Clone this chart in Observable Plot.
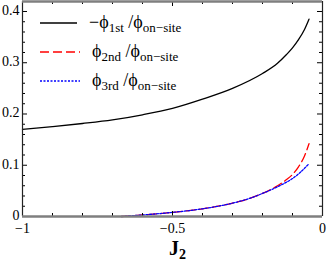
<!DOCTYPE html>
<html>
<head>
<meta charset="utf-8">
<script src="https://cdn.jsdelivr.net/npm/d3@7"></script>
<script src="https://cdn.jsdelivr.net/npm/@observablehq/plot@0.6"></script>
<style>
  html, body { margin: 0; padding: 0; background: #fff; }
  #chart { width: 327px; height: 261px; }
</style>
</head>
<body>
<div id="chart"></div>
<script>
// Data
const J2_first = [-1, -0.9, -0.8, -0.7, -0.6, -0.5, -0.4, -0.3, -0.2, -0.15, -0.12, -0.1, -0.08, -0.06, -0.045];
const phi1 = [0.170, 0.1755, 0.1815, 0.1885, 0.1985, 0.211, 0.229, 0.250, 0.279, 0.299, 0.316, 0.329, 0.345, 0.365, 0.385];

const J2_far = [-0.67, -0.6, -0.5, -0.4, -0.3, -0.25, -0.2, -0.15, -0.12, -0.1, -0.08, -0.06, -0.045];
const phi2 = [0.0, 0.003, 0.008, 0.015, 0.026, 0.034, 0.045, 0.060, 0.072, 0.082, 0.097, 0.118, 0.142];
const phi3 = [0.0, 0.003, 0.008, 0.015, 0.026, 0.034, 0.045, 0.058, 0.067, 0.074, 0.083, 0.094, 0.103];

const xMajor = [-1, -0.5, 0];
const xMinor = [-0.9, -0.8, -0.7, -0.6, -0.4, -0.3, -0.2, -0.1];
const yMajor = [0, 0.1, 0.2, 0.3, 0.4];
const yMinor = [0.02, 0.04, 0.06, 0.08, 0.12, 0.14, 0.16, 0.18, 0.22, 0.24, 0.26, 0.28, 0.32, 0.34, 0.36, 0.38];

const W = 327, H = 261;
const mL = 22, mR = 5, mT = 1, mB = 45;
const xDom = [-1, 0], yDom = [0, 0.4195];
const pw = W - mL - mR, ph = H - mT - mB;
const dyu = (yDom[1] - yDom[0]) / ph;   // data units per pixel (y)
const dxu = (xDom[1] - xDom[0]) / pw;   // data units per pixel (x)
const majLen = 5, minLen = 3;

const s1 = J2_first.map((x, i) => ({x, y: phi1[i]}));
const s2 = J2_far.map((x, i) => ({x, y: phi2[i]}));
const s3 = J2_far.map((x, i) => ({x, y: phi3[i]}));

const frameGray = "#7f7f7f";

const plot = Plot.plot({
  width: W, height: H,
  marginLeft: mL, marginRight: mR, marginTop: mT, marginBottom: mB,
  style: {fontFamily: "'Liberation Serif', 'Times New Roman', serif", fontSize: "14px", color: "#000", background: "#fff", overflow: "visible"},
  x: {domain: xDom, axis: null},
  y: {domain: yDom, axis: null},
  marks: [
    // curves
    Plot.line(s1, {x: "x", y: "y", stroke: "#000", strokeWidth: 1.3, curve: "monotone-x"}),
    Plot.line(s2, {x: "x", y: "y", stroke: "#ff0000", strokeWidth: 1.3, strokeDasharray: "9,4", curve: "monotone-x"}),
    Plot.line(s3, {x: "x", y: "y", stroke: "#0000ff", strokeWidth: 1.3, strokeDasharray: "2,1.5", curve: "monotone-x"}),
    // inward ticks bottom/top
    Plot.ruleX(xMajor, {y1: yDom[0], y2: yDom[0] + majLen * dyu, stroke: "#000"}),
    Plot.ruleX(xMinor, {y1: yDom[0], y2: yDom[0] + minLen * dyu, stroke: "#000"}),
    Plot.ruleX(xMajor, {y1: yDom[1], y2: yDom[1] - majLen * dyu, stroke: "#000"}),
    Plot.ruleX(xMinor, {y1: yDom[1], y2: yDom[1] - minLen * dyu, stroke: "#000"}),
    // inward ticks left/right
    Plot.ruleY(yMajor, {x1: xDom[0], x2: xDom[0] + majLen * dxu, stroke: "#000"}),
    Plot.ruleY(yMinor, {x1: xDom[0], x2: xDom[0] + minLen * dxu, stroke: "#000"}),
    Plot.ruleY(yMajor, {x1: xDom[1], x2: xDom[1] - majLen * dxu, stroke: "#000"}),
    Plot.ruleY(yMinor, {x1: xDom[1], x2: xDom[1] - minLen * dxu, stroke: "#000"}),
    // frame
    Plot.ruleX([xDom[0], xDom[1]], {stroke: "#222", strokeWidth: 1.2}),
    Plot.ruleY([yDom[0], yDom[1]], {stroke: frameGray, strokeWidth: 2.4}),
    // tick labels
    Plot.axisX({ticks: xMajor, label: null, tickSize: 0, tickPadding: 7, fontSize: 14, tickFormat: d => d === 0 ? "0" : d3.format("")(d).replace("-", "\u2212")}),
    Plot.axisY({ticks: yMajor, label: null, tickSize: 0, tickPadding: 3, dy: -1, fontSize: 14, tickFormat: d => d === 0 ? "0" : d.toFixed(1)})
  ]
});

document.getElementById("chart").appendChild(plot);

const svg = d3.select(plot);
// x-axis label J2
const lab = svg.append("text")
  .attr("x", 169).attr("y", 255)
  .attr("text-anchor", "start")
  .attr("font-family", "'Liberation Serif', serif")
  .attr("font-weight", "bold")
  .attr("font-size", 20)
  .attr("fill", "#000");
lab.append("tspan").text("J");
lab.append("tspan").attr("font-size", 14).attr("dy", 4).text("2");

// legend
const legend = [
  {pre: "\u2212\u03d5", sub1: "1st", color: "#000", dash: null, y: 23},
  {pre: "\u03d5", sub1: "2nd", color: "#ff0000", dash: "9,4", y: 52},
  {pre: "\u03d5", sub1: "3rd", color: "#0000ff", dash: "2,1.5", y: 81}
];
const lg = svg.append("g").attr("font-family", "'Liberation Serif', serif").attr("fill", "#000").attr("text-anchor", "start");
legend.forEach((d, i) => {
  const ln = lg.append("line").attr("x1", 40).attr("x2", i === 0 ? 77 : 80)
    .attr("y1", d.y).attr("y2", d.y).attr("stroke", d.color).attr("stroke-width", 1.3);
  if (d.dash) ln.attr("stroke-dasharray", d.dash);
  const t = lg.append("text").attr("x", i === 0 ? 89 : 92).attr("y", d.y + 5).attr("font-size", 18).attr("text-anchor", "start");
  t.append("tspan").text(d.pre);
  t.append("tspan").attr("font-size", 13).attr("dy", 4).text(d.sub1);
  t.append("tspan").attr("dy", -4).text(" /\u03d5");
  t.append("tspan").attr("font-size", 13).attr("dy", 4).text("on\u2212site");
});
</script>
</body>
</html>
